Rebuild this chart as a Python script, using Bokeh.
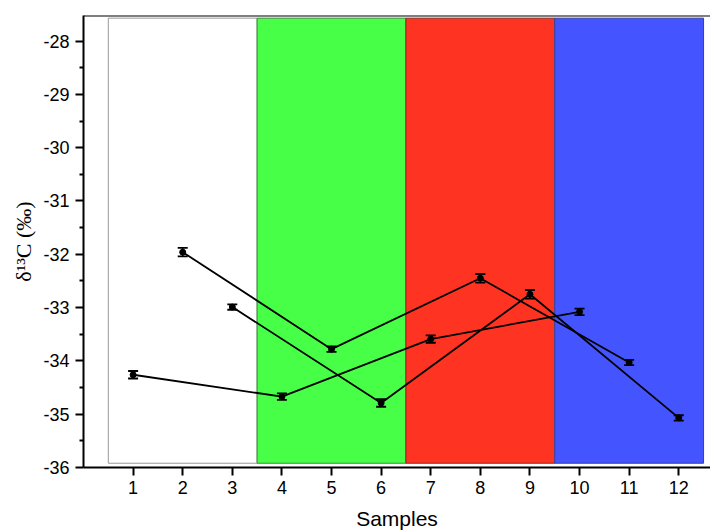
from bokeh.plotting import figure
from bokeh.models import ColumnDataSource, FixedTicker, Span, Range1d, PrintfTickFormatter
from bokeh.embed import file_html
from bokeh.resources import INLINE

# ---- data ----
series_a_x = [1, 4, 7, 10]
series_a_y = [-34.26, -34.67, -33.59, -33.08]
series_a_err = [0.07, 0.06, 0.07, 0.06]

series_b_x = [2, 5, 8, 11]
series_b_y = [-31.96, -33.78, -32.45, -34.03]
series_b_err = [0.08, 0.05, 0.08, 0.05]

series_c_x = [3, 6, 9, 12]
series_c_y = [-32.99, -34.79, -32.75, -35.07]
series_c_err = [0.05, 0.07, 0.08, 0.05]

group_left = [0.5, 3.5, 6.5, 9.5]
group_right = [3.5, 6.5, 9.5, 12.5]
group_fill = ["#FFFFFF", "#47FF47", "#FF3322", "#4455FF"]
group_edge = ["#999999", "#3A8A3A", "#8A2A20", "#3340A0"]
band_bottom = -35.92
band_top = -27.57

x_ticks = list(range(1, 13))
y_ticks = [-36, -35, -34, -33, -32, -31, -30, -29, -28]

p = figure(width=710, height=532, output_backend="svg", toolbar_location=None,
           x_range=Range1d(0, 12.64), y_range=Range1d(-36, -27.52),
           min_border_left=83, min_border_right=0, min_border_top=15,
           min_border_bottom=64)
p.outline_line_color = None
p.grid.grid_line_color = None
p.background_fill_color = "white"

p.quad(left=group_left, right=group_right, bottom=band_bottom, top=band_top,
       fill_color=group_fill, line_color=group_edge, line_width=1)

for xs, ys, es in [(series_a_x, series_a_y, series_a_err),
                   (series_b_x, series_b_y, series_b_err),
                   (series_c_x, series_c_y, series_c_err)]:
    src = ColumnDataSource(dict(x=xs, y=ys,
                                lo=[y - e for y, e in zip(ys, es)],
                                hi=[y + e for y, e in zip(ys, es)]))
    p.line("x", "y", source=src, line_color="black", line_width=1.8)
    p.segment(x0="x", y0="lo", x1="x", y1="hi", source=src,
              line_color="black", line_width=1.5)
    p.scatter("x", "lo", source=src, marker="dash", size=10,
              line_color="black", line_width=1.8)
    p.scatter("x", "hi", source=src, marker="dash", size=10,
              line_color="black", line_width=1.8)
    p.scatter("x", "y", source=src, size=6, color="black")

p.add_layout(Span(location=-27.52, dimension="width", line_color="black", line_width=2))

p.xaxis.ticker = FixedTicker(ticks=x_ticks)
p.yaxis.ticker = FixedTicker(ticks=y_ticks,
                             minor_ticks=[v + 0.5 for v in y_ticks[:-1]] + [-27.5])
p.yaxis.formatter = PrintfTickFormatter(format="%d")
p.xaxis.minor_tick_line_color = None
for ax in (p.xaxis, p.yaxis):
    ax.axis_line_width = 2
    ax.axis_line_color = "black"
    ax.major_tick_line_width = 2
    ax.minor_tick_line_width = 2
    ax.major_tick_in = 0
    ax.major_tick_out = 8
    ax.minor_tick_in = 0
    ax.minor_tick_out = 4
    ax.major_label_text_font = "Liberation Sans"
    ax.major_label_text_font_size = "18px"
    ax.major_label_text_color = "black"
    ax.major_label_standoff = 6
    ax.axis_label_text_color = "black"
    ax.axis_label_text_font_style = "normal"

p.xaxis.major_label_standoff = 5
p.xaxis.axis_label = "Samples"
p.xaxis.axis_label_text_font = "Liberation Sans"
p.xaxis.axis_label_text_font_size = "21px"
p.xaxis.axis_label_standoff = 10

p.yaxis.axis_label = "δ¹³C (‰)"
p.yaxis.axis_label_text_font = "Liberation Serif"
p.yaxis.axis_label_text_font_size = "22px"
p.yaxis.axis_label_standoff = 4

open("out.html", "w").write(file_html(p, INLINE))
